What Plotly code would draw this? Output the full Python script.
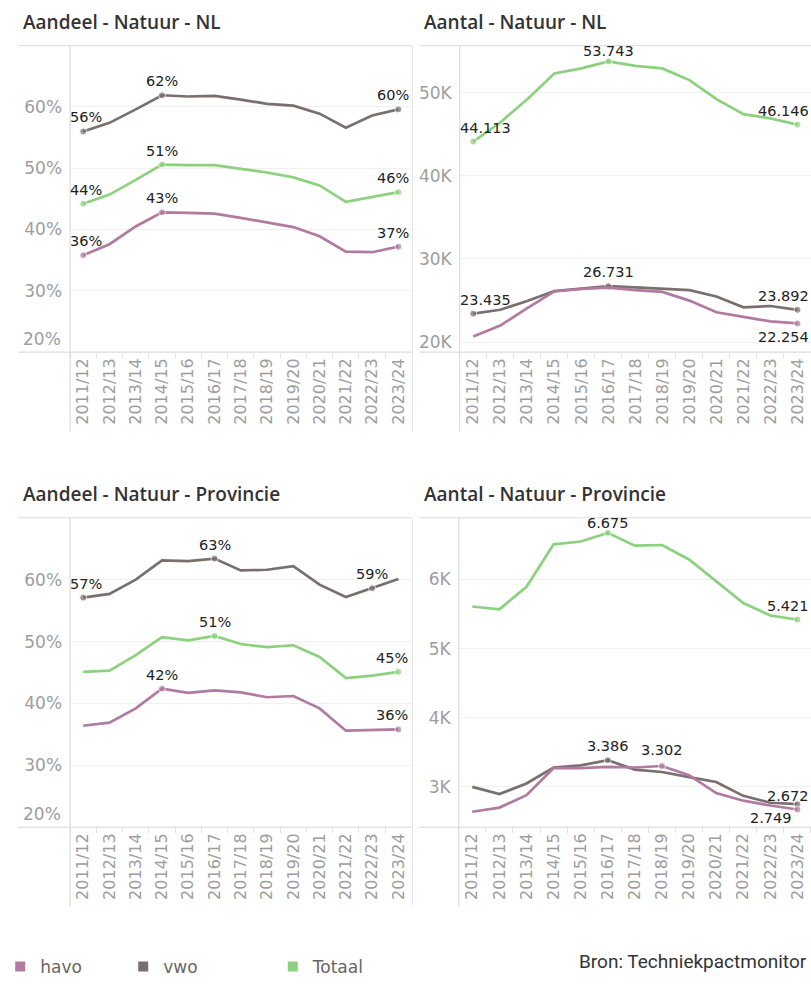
import plotly.graph_objects as go

W, H = 811, 985

seizoenen = ["2011/12", "2012/13", "2013/14", "2014/15", "2015/16", "2016/17", "2017/18",
             "2018/19", "2019/20", "2020/21", "2021/22", "2022/23", "2023/24"]

# Aandeel - Natuur - NL (%)
aandeel_nl_havo = [35.8, 37.6, 40.5, 42.8, 42.7, 42.6, 41.9, 41.2, 40.4, 38.9, 36.4, 36.3, 37.2]
aandeel_nl_vwo = [56.0, 57.4, 59.6, 61.9, 61.7, 61.8, 61.2, 60.5, 60.2, 58.9, 56.6, 58.6, 59.6]
aandeel_nl_totaal = [44.2, 45.7, 48.1, 50.6, 50.5, 50.5, 49.9, 49.3, 48.5, 47.2, 44.5, 45.3, 46.1]

# Aantal - Natuur - NL
aantal_nl_havo = [20700, 22000, 24100, 26100, 26400, 26550, 26250, 26050, 25000, 23600, 23050, 22500, 22254]
aantal_nl_vwo = [23435, 23900, 24950, 26150, 26450, 26731, 26600, 26450, 26250, 25500, 24200, 24350, 23892]
aantal_nl_totaal = [44113, 46400, 49200, 52300, 52900, 53743, 53200, 52900, 51500, 49200, 47400, 46900, 46146]

# Aandeel - Natuur - Provincie (%)
aandeel_prov_havo = [36.4, 36.9, 39.2, 42.4, 41.7, 42.1, 41.8, 41.0, 41.2, 39.2, 35.6, 35.7, 35.8]
aandeel_prov_vwo = [57.1, 57.7, 60.0, 63.1, 63.0, 63.4, 61.5, 61.6, 62.2, 59.2, 57.2, 58.6, 60.1]
aandeel_prov_totaal = [45.1, 45.3, 47.8, 50.7, 50.2, 50.9, 49.6, 49.1, 49.4, 47.5, 44.1, 44.5, 45.1]

# Aantal - Natuur - Provincie
aantal_prov_havo = [2640, 2700, 2880, 3270, 3270, 3290, 3280, 3302, 3170, 2910, 2800, 2730, 2672]
aantal_prov_vwo = [3000, 2895, 3050, 3280, 3310, 3386, 3250, 3215, 3140, 3070, 2870, 2770, 2749]
aantal_prov_totaal = [5610, 5570, 5895, 6510, 6550, 6675, 6490, 6500, 6290, 5980, 5660, 5480, 5421]

pct_ticks = [20, 30, 40, 50, 60]
pct_ticktext = ["20%", "30%", "40%", "50%", "60%"]
nl_ticks = [20000, 30000, 40000, 50000]
nl_ticktext = ["20K", "30K", "40K", "50K"]
prov_ticks = [3000, 4000, 5000, 6000]
prov_ticktext = ["3K", "4K", "5K", "6K"]

kleuren = {"havo": "#b07aa1", "vwo": "#79706e", "Totaal": "#8cd17d"}

TICKFONT = dict(family="DejaVu Sans", size=17, color="#9d9d9d")


def px(x):
    return x / W


def py(y):
    return 1 - y / H


def fmt_pct(v):
    return f"{round(v)}%"


def fmt_num(v):
    return f"{v:,}".replace(",", ".")


# label: (index, xshift, yshift); yshift < 0 -> onder het punt
panels = [
    dict(title="Aandeel - Natuur - NL", ax="", left=58, right=405, top=46, bottom=355,
         series={"Totaal": aandeel_nl_totaal, "vwo": aandeel_nl_vwo, "havo": aandeel_nl_havo},
         labels={"havo": [(0, 3, 4), (3, 0, 4), (12, -5, 4)],
                 "vwo": [(0, 3, 4), (3, 0, 4), (12, -5, 4)],
                 "Totaal": [(0, 3, 4), (3, 0, 4), (12, -5, 4)]},
         rng=[20, 70], tv=pct_ticks, tt=pct_ticktext, fmt=fmt_pct, lift_bottom=True),
    dict(title="Aantal - Natuur - NL", ax="2", left=454, right=811, top=46, bottom=355,
         series={"Totaal": aantal_nl_totaal, "vwo": aantal_nl_vwo, "havo": aantal_nl_havo},
         labels={"havo": [(12, -14, -4)],
                 "vwo": [(0, 12, 4), (5, 0, 4), (12, -14, 4)],
                 "Totaal": [(0, 12, 4), (5, 0, 0), (12, -14, 4)]},
         rng=[18810, 55640], tv=nl_ticks, tt=nl_ticktext, fmt=fmt_num, lift_bottom=False),
    dict(title="Aandeel - Natuur - Provincie", ax="3", left=58, right=405, top=522, bottom=834,
         series={"Totaal": aandeel_prov_totaal, "vwo": aandeel_prov_vwo, "havo": aandeel_prov_havo},
         labels={"havo": [(3, 0, 4), (12, -6, 4)],
                 "vwo": [(0, 3, 4), (5, 0, 4), (11, 0, 4)],
                 "Totaal": [(5, 0, 4), (12, -6, 4)]},
         rng=[20, 70], tv=pct_ticks, tt=pct_ticktext, fmt=fmt_pct, lift_bottom=True),
    dict(title="Aantal - Natuur - Provincie", ax="4", left=453, right=811, top=522, bottom=834,
         series={"Totaal": aantal_prov_totaal, "vwo": aantal_prov_vwo, "havo": aantal_prov_havo},
         labels={"havo": [(7, 0, 6), (12, -9, 4)],
                 "vwo": [(5, 0, 4), (12, -26, -4)],
                 "Totaal": [(5, 0, 0), (12, -9, 4)]},
         rng=[2416, 6894], tv=prov_ticks, tt=prov_ticktext, fmt=fmt_num, lift_bottom=False),
]

fig = go.Figure()
annotations = []
shapes = []
line_grey = "#d4d4d4"

for p in panels:
    xa, ya = "x" + p["ax"], "y" + p["ax"]
    for naam in ["Totaal", "vwo", "havo"]:
        waarden = p["series"][naam]
        idx = [l[0] for l in p["labels"][naam]]
        sizes = [7 if i in idx else 0 for i in range(len(waarden))]
        fig.add_trace(go.Scatter(
            x=seizoenen, y=waarden, mode="lines+markers", xaxis=xa, yaxis=ya,
            line=dict(color=kleuren[naam], width=2.7),
            marker=dict(size=sizes, color=kleuren[naam]),
            showlegend=False, hoverinfo="skip", cliponaxis=False))
        for i, xs, ys in p["labels"][naam]:
            annotations.append(dict(
                x=seizoenen[i], y=waarden[i], xref=xa, yref=ya, text=p["fmt"](waarden[i]),
                showarrow=False, xshift=xs, yshift=ys,
                yanchor="bottom" if ys >= 0 else "top",
                font=dict(family="DejaVu Sans", size=14.5, color="#222")))

    tv, tt = p["tv"], p["tt"]
    if p["lift_bottom"]:
        # onderste label staat boven de aslijn, zoals in het origineel
        annotations.append(dict(x=px(p["left"] - 7), y=tv[0], xref="paper", yref=ya, text=tt[0],
                                showarrow=False, xanchor="right", yanchor="bottom", yshift=1,
                                font=TICKFONT))
        tv, tt = tv[1:], tt[1:]

    key = p["ax"]
    fig.update_layout({
        "xaxis" + key: dict(domain=[px(p["left"]), px(p["right"])], anchor=ya, type="category",
                            range=[-0.5, 12.5], showgrid=False, showline=False, zeroline=False,
                            tickangle=-90, ticks="outside", tickson="boundaries", ticklen=5,
                            tickcolor="#e2e2e2", ticklabelstandoff=2,
                            tickfont=dict(family="DejaVu Sans", size=16, color="#9d9d9d")),
        "yaxis" + key: dict(domain=[py(p["bottom"]), py(p["top"])], anchor=xa, range=p["rng"],
                            tickvals=tv, ticktext=tt, showgrid=True, gridcolor="#f0f0f0",
                            gridwidth=1, zeroline=False, showline=False, ticks="",
                            ticklabelstandoff=7, tickfont=TICKFONT),
    })

    # kader: lijnen boven en onder, linker as
    frame_left = 5 if p["left"] < 200 else 413
    shapes.append(dict(type="line", xref="paper", yref="paper", x0=px(frame_left), x1=px(p["right"]),
                       y0=py(p["top"]), y1=py(p["top"]), line=dict(color="#dcdcdc", width=1)))
    shapes.append(dict(type="line", xref="paper", yref="paper", x0=px(frame_left), x1=px(p["right"]),
                       y0=py(p["bottom"]), y1=py(p["bottom"]), line=dict(color=line_grey, width=1)))
    shapes.append(dict(type="line", xref="paper", yref="paper", x0=px(p["left"]), x1=px(p["left"]),
                       y0=py(p["top"]), y1=py(p["bottom"] + 80), line=dict(color=line_grey, width=1)))
    annotations.append(dict(x=px(8 if frame_left == 5 else 416), y=py(p["top"] - 24),
                            xref="paper", yref="paper", text=p["title"], showarrow=False,
                            xanchor="left", yanchor="middle",
                            font=dict(family="Open Sans", size=19, color="#333", weight=600)))

# scheiding tussen kolommen
for top, bottom in [(46, 435), (522, 913)]:
    shapes.append(dict(type="line", xref="paper", yref="paper", x0=px(406), x1=px(406),
                       y0=py(top), y1=py(bottom), line=dict(color="#e6e6e6", width=1)))

annotations.append(dict(x=px(809), y=py(969), xref="paper", yref="paper",
                        text="Bron: Techniekpactmonitor", showarrow=False, xanchor="right",
                        yanchor="middle", font=dict(family="Roboto", size=19, color="#333")))

# legenda
legend_pos = {"havo": -13, "vwo": 112, "Totaal": 264}
for n, naam in enumerate(["havo", "vwo", "Totaal"]):
    lg = "legend" if n == 0 else f"legend{n + 1}"
    fig.add_trace(go.Scatter(x=[None], y=[None], mode="markers", name=naam, legend=lg,
                             marker=dict(symbol="square", size=10, color=kleuren[naam])))
    fig.update_layout({lg: dict(x=px(legend_pos[naam]), y=py(975), xanchor="left", yanchor="middle",
                                bgcolor="rgba(0,0,0,0)", itemwidth=30,
                                font=dict(family="DejaVu Sans", size=17, color="#666"))})

fig.update_layout(width=W, height=H, margin=dict(l=0, r=0, t=0, b=0),
                  plot_bgcolor="white", paper_bgcolor="white",
                  annotations=annotations, shapes=shapes)

fig.write_html("out.html", config={"displayModeBar": False},
               post_script="document.body.style.margin='0';document.body.style.overflow='hidden';")
